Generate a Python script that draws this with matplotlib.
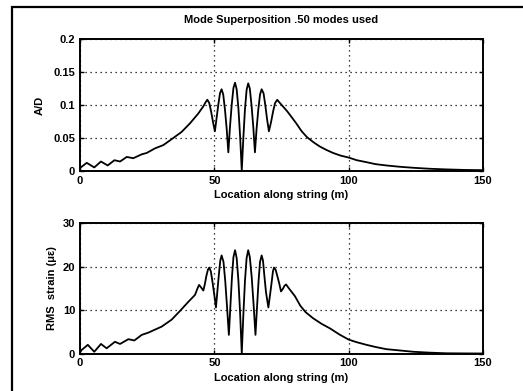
import matplotlib
matplotlib.use("Agg")
import matplotlib.pyplot as plt
from matplotlib.patches import Rectangle

plt.rcParams['font.family'] = ['Liberation Sans', 'DejaVu Sans']

# Response amplitude along the string (A/D)
loc_ad = [0, 0.6, 2.5, 5.3, 7.8, 10.3, 12.8, 14.9, 17.4, 19.8, 23, 24.8, 27.9, 31,
          34.1, 37.8, 40.9, 44, 45.9, 46.7, 47.4,
          48.1, 48.8, 49.5, 50.2, 50.8, 51.45, 52.1, 52.7, 53.3, 53.95, 54.6, 55.2,
          55.8, 56.45, 57.1, 57.7, 58.3, 58.95, 59.6, 60.2, 60.8, 61.4, 62.0, 62.6,
          63.2, 63.85, 64.5, 65.1, 65.7, 66.35, 67.0, 67.6, 68.3, 68.95, 69.6, 70.3,
          71.1, 71.85, 72.6, 73.4,
          74.2, 75.5, 77, 78.5, 80.5, 82.5, 84.5, 87, 89.2, 91.5, 94.2, 97, 100,
          103, 106.6, 110, 114, 119, 123.9, 130, 136.3, 143, 150]
ad = [0.004, 0.006, 0.012, 0.005, 0.014, 0.008, 0.016, 0.014, 0.021, 0.019, 0.025,
      0.027, 0.034, 0.039, 0.048, 0.059, 0.072, 0.087, 0.098, 0.104, 0.108,
      0.103, 0.090, 0.074, 0.060, 0.079, 0.100, 0.118, 0.124, 0.116, 0.093, 0.063,
      0.028, 0.066, 0.100, 0.126, 0.134, 0.124, 0.095, 0.051, 0.0, 0.051, 0.094,
      0.123, 0.133, 0.125, 0.099, 0.066, 0.028, 0.063, 0.093, 0.116, 0.124, 0.118,
      0.100, 0.079, 0.060, 0.074, 0.090, 0.103, 0.108,
      0.104, 0.098, 0.091, 0.083, 0.072, 0.060, 0.051, 0.043, 0.037, 0.032, 0.027,
      0.023, 0.020, 0.016, 0.013, 0.010, 0.008, 0.006, 0.0045, 0.003, 0.002,
      0.0012, 0.0008]

# RMS strain along the string (micro-strain)
loc_rms = [0, 0.6, 2.9, 5.3, 7.8, 9.9, 13, 14.9, 18, 20.2, 23, 25.4, 30.4, 34.1,
           37.2, 40.3, 42.8, 43.6, 44.3, 45.1, 45.9,
           46.5, 47.0, 47.6, 48.1, 48.7, 49.35, 50.0, 50.6, 51.1, 51.65, 52.2, 52.7,
           53.4, 54.05, 54.7, 55.4, 56.0, 56.55, 57.1, 57.7, 58.3, 58.95, 59.6, 60.2,
           60.8, 61.4, 62.0, 62.6, 63.2, 63.9, 64.6, 65.3, 65.9, 66.45, 67.0, 67.6,
           68.1, 68.6, 69.2, 70.1, 70.7, 71.3, 71.8, 72.2, 72.8, 73.5, 74.2, 74.8,
           75.5, 76.1, 76.7,
           78, 80, 82, 84, 86.8, 90, 93, 96.5, 100, 103, 106.6, 110, 114, 119, 124,
           130, 136.4, 143, 150]
rms = [0.3, 0.8, 2.0, 0.4, 2.2, 1.2, 2.7, 2.2, 3.3, 3.0, 4.3, 4.8, 6.2, 7.8,
       9.8, 11.9, 13.5, 14.8, 15.8, 15.2, 14.5,
       16.1, 17.8, 19.3, 19.8, 18.9, 16.3, 13.4, 10.6, 14.2, 18.0, 21.4, 22.6,
       21.1, 16.7, 10.9, 4.3, 11.3, 17.6, 22.2, 23.8, 22.0, 16.8, 9.1, 0.0,
       9.1, 16.8, 22.0, 23.8, 22.2, 17.6, 11.3, 4.3, 10.9, 16.7, 21.1, 22.6,
       21.4, 18.0, 14.2, 10.6, 13.4, 16.3, 18.9, 19.8, 19.3, 17.7, 16.0, 14.3,
       14.9, 15.6, 15.9,
       14.8, 13.2, 11.0, 9.5, 8.1, 6.8, 5.8, 4.4, 3.2, 2.6, 2.0, 1.5, 1.0, 0.7, 0.4,
       0.2, 0.05, 0.02, 0.0]

x_ticks = [0, 50, 100, 150]
ad_ticks = [0, 0.05, 0.1, 0.15, 0.2]
ad_ticklabels = ['0', '0.05', '0.1', '0.15', '0.2']
rms_ticks = [0, 10, 20, 30]

fig = plt.figure(figsize=(5.23, 3.91), dpi=100)

# frame around the whole figure
fig.patches.append(Rectangle((12 / 523, -0.2), 1.2, 1.2 - 7 / 391,
                             transform=fig.transFigure, fill=False,
                             edgecolor='black', linewidth=1.6))

ax1 = fig.add_axes([0.153, 0.5634, 0.7706, 0.336])
ax2 = fig.add_axes([0.153, 0.0959, 0.7706, 0.333])

fs = 8
for ax in (ax1, ax2):
    ax.set_xlim(0, 150)
    ax.set_xticks(x_ticks)
    ax.set_xticklabels([str(t) for t in x_ticks], fontweight='bold')
    ax.grid(True, color='black', linestyle=(0, (1, 3)), linewidth=0.9)
    ax.tick_params(direction='in', length=3, width=1, top=True, right=True,
                   labelsize=fs, pad=3.5)
    for s in ax.spines.values():
        s.set_linewidth(1.4)
    ax.set_xlabel('Location along string (m)', fontsize=fs, fontweight='bold',
                  labelpad=3)

ax1.plot(loc_ad, ad, color='black', linewidth=1.3)
ax1.set_ylim(0, 0.2)
ax1.set_yticks(ad_ticks)
ax1.set_yticklabels(ad_ticklabels, fontweight='bold')
ax1.set_ylabel('A/D', fontsize=fs, fontweight='bold', labelpad=6)
ax1.set_title('Mode Superposition .50 modes used', fontsize=fs, fontweight='bold',
              pad=12)

ax2.plot(loc_rms, rms, color='black', linewidth=1.3)
ax2.set_ylim(0, 30)
ax2.set_yticks(rms_ticks)
ax2.set_yticklabels([str(t) for t in rms_ticks], fontweight='bold')
ax2.set_ylabel('RMS  strain (\u03bc\u03b5)', fontsize=fs, fontweight='bold',
               labelpad=4)

fig.savefig('out.png', dpi=100)
